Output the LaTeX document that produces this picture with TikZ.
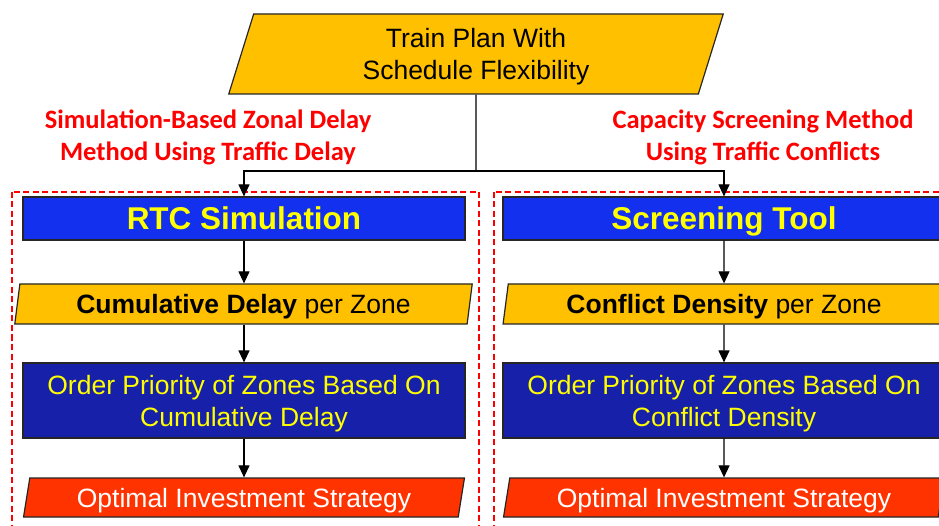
\documentclass[tikz,border=0pt]{standalone}
\usepackage{fontspec}
\setmainfont{Liberation Sans}
\newfontfamily\calfont{Carlito}
\usetikzlibrary{shapes.geometric,arrows.meta}
\definecolor{plyellow}{RGB}{255,192,0}
\definecolor{plblue}{RGB}{18,48,238}
\definecolor{pldark}{RGB}{22,32,168}
\definecolor{plred}{RGB}{255,51,0}
\definecolor{lblred}{RGB}{255,0,0}
\definecolor{txtyellow}{RGB}{255,255,0}
\tikzset{
  basetext/.style={font=\fontsize{26.5}{32}\selectfont, align=center, inner sep=0pt,
     text height=19pt, text depth=0pt},
  twolines/.style={text height=51pt, text depth=0pt},
  para/.style={basetext, shape=trapezium, trapezium stretches=true, draw=black!85, line width=1.2pt},
  yellowpara/.style={para, fill=plyellow, text=black, minimum width=#1, minimum height=40pt,
     trapezium left angle=78.7, trapezium right angle=101.3},
  redpara/.style={para, fill=plred, text=white, minimum width=442pt, minimum height=39pt,
     trapezium left angle=75.6, trapezium right angle=104.4},
  headbox/.style={basetext, draw=black!85, line width=1.2pt, fill=plblue, text=txtyellow,
     font=\fontsize{31.5}{36}\selectfont\bfseries, text height=22.5pt, text depth=0pt,
     minimum width=442pt, minimum height=43pt},
  darkbox/.style={basetext, twolines, draw=black!85, line width=1.2pt, fill=pldark, text=txtyellow,
     minimum width=442pt, minimum height=75pt},
  redlabel/.style={align=center, inner sep=0pt, text=lblred, text height=49pt, text depth=0pt,
     font=\calfont\bfseries\fontsize{26.5}{32}\selectfont},
  arr/.style={line width=1.2pt, -{Triangle[length=12pt,width=11pt]}},
  conn/.style={line width=1.2pt},
  dashbox/.style={draw=lblred, line width=2pt, dash pattern=on 6pt off 3.5pt}
}
\begin{document}
\begin{tikzpicture}[x=1pt,y=-1pt]
\clip (0,0) rectangle (939,526);
\fill[white] (0,0) rectangle (939,526);
% dashed containers
\draw[dashbox] (12,192) rectangle (479,560);
\draw[dashbox] (494,192) rectangle (980,560);
% top
\node[para, twolines, fill=plyellow, text=black, minimum width=496pt, minimum height=80pt,
  trapezium left angle=76, trapezium right angle=104] (top) at (476,54)
  {Train Plan With\\Schedule Flexibility};
\coordinate (split) at (476,171);
% labels
\node[redlabel] (lblL) at (208,136.5) {Simulation-Based Zonal Delay\\Method Using Traffic Delay};
\node[redlabel] (lblR) at (763,136.5) {Capacity Screening Method\\Using Traffic Conflicts};
% left column
\node[headbox] (rtc) at (244,218.5) {RTC Simulation};
\node[yellowpara=459pt] (cumL) at (243.5,304) {\textbf{Cumulative Delay} per Zone};
\node[darkbox] (ordL) at (244,400.5) {Order Priority of Zones Based On\\Cumulative Delay};
\node[redpara] (optL) at (244,497.5) {Optimal Investment Strategy};
% right column
\node[headbox] (scr) at (724,218.5) {Screening Tool};
\node[yellowpara=442pt] (cumR) at (724,304) {\textbf{Conflict Density} per Zone};
\node[darkbox] (ordR) at (724,400.5) {Order Priority of Zones Based On\\Conflict Density};
\node[redpara] (optR) at (724,497.5) {Optimal Investment Strategy};
% connectors
\draw[conn] (top.south) -- (split);
\draw[arr] (split) -| (rtc.north);
\draw[arr] (split) -| (scr.north);
\draw[arr] (rtc.south) -- (rtc.south |- cumL.north);
\draw[arr] (rtc.south |- cumL.south) -- (ordL.north);
\draw[arr] (ordL.south) -- (ordL.south |- optL.north);
\draw[arr] (scr.south) -- (cumR.north);
\draw[arr] (cumR.south) -- (ordR.north);
\draw[arr] (ordR.south) -- (optR.north);
\end{tikzpicture}
\end{document}
